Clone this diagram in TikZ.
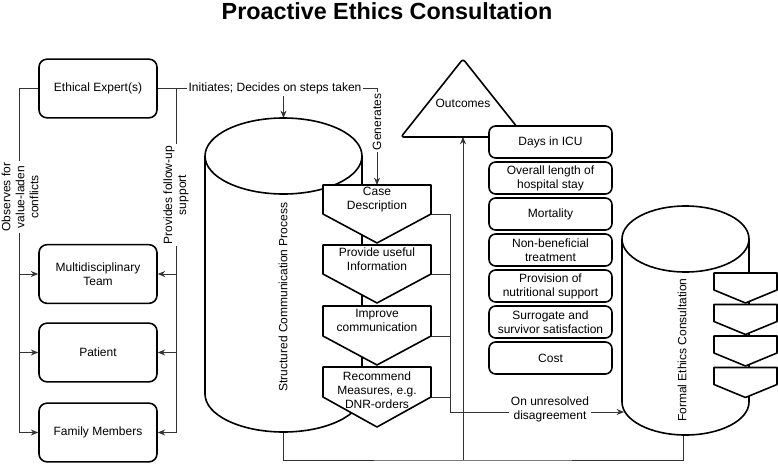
\documentclass[tikz,border=0pt]{standalone}
\usepackage{fontspec}
\setmainfont{Liberation Sans}
\usetikzlibrary{arrows.meta}
\newcommand\chevpath[5]{\draw[shp] (#1,-#3) -- (#2,-#3) -- (#2,-#4) -- ({(#1+#2)/2},-#5) -- (#1,-#4) -- cycle;}
\begin{document}
\begin{tikzpicture}[x=0.75pt,y=0.75pt,
  every node/.style={font=\fontsize{9}{10.5}\selectfont, align=center, inner sep=0pt},
  rbox/.style={draw, line width=1.2pt, rounded corners=6pt, fill=white, minimum width=88.5pt, minimum height=44pt},
  obox/.style={draw, line width=1.2pt, rounded corners=5pt, fill=white, minimum width=92.25pt, minimum height=24pt},
  shp/.style={draw, line width=1.2pt, fill=white, line join=round},
  conn/.style={draw=black!80, line width=0.7pt},
  arr/.style={conn, -{Stealth[length=5.5pt,width=4.5pt]}},
  lbl/.style={fill=white, inner sep=1.5pt}]
\useasboundingbox (0,0) rectangle (778,-464);

% title
\node[font=\fontsize{17.5}{20}\selectfont\bfseries] (title) at (387,-11) {Proactive Ethics Consultation};

% coordinates
\coordinate (br) at (283.5,-88.5);
\coordinate (scptop) at (283.5,-118);
\coordinate (scpbot) at (283.5,-432);
\coordinate (cdtop) at (377,-185);
\coordinate (cde) at (431,-214);
\coordinate (puie) at (431,-274);
\coordinate (ice) at (431,-336);
\coordinate (rme) at (431,-397);
\coordinate (j) at (450,-412);
\coordinate (fecw) at (624,-412);
\coordinate (fecbot) at (683,-435);
\coordinate (jb) at (463,-460);
\coordinate (tribase) at (463,-137);

% left boxes
\node[rbox] (ee) at (98,-88.5) {Ethical Expert(s)};
\node[rbox] (mt) at (98,-274) {Multidisciplinary\\Team};
\node[rbox] (pa) at (98,-352.5) {Patient};
\node[rbox] (fm) at (98,-432.5) {Family Members};

% left connectors
\draw[arr] (ee.west) -- ++(-19,0) |- (mt.west);
\draw[arr] (ee.west) -- ++(-19,0) |- (pa.west);
\draw[arr] (ee.west) -- ++(-19,0) |- (fm.west);
\draw[arr] (ee.east) -- ++(19,0) |- (mt.east);
\draw[arr] (ee.east) -- ++(19,0) |- (pa.east);
\draw[arr] (ee.east) -- ++(19,0) |- (fm.east);
\draw[arr] (ee.east) -| (cdtop);
\draw[arr] (br) -- (scptop);

% bottom connectors
\draw[conn] (scpbot) |- (jb) -| (fecbot);
\draw[arr] (jb) -- (tribase);
\draw[conn] (cde) -| (j);
\draw[conn] (puie) -| (j);
\draw[conn] (ice) -| (j);
\draw[conn] (rme) -| (j);
\draw[arr] (j) -- (fecw);

% structured communication process cylinder
\draw[shp] (205,-156) -- (205,-394) arc[start angle=180,end angle=360,x radius=78.5,y radius=38] -- (362,-156) arc[start angle=0,end angle=180,x radius=78.5,y radius=38] -- cycle;
\draw[line width=1.2pt] (205,-156) arc[start angle=180,end angle=360,x radius=78.5,y radius=38];
\node[rotate=90] (scp) at (283,-297) {Structured Communication Process};

% chevrons
\chevpath{323}{431}{185}{214}{243}
\chevpath{323}{431}{245}{274}{303}
\chevpath{323}{431}{306}{336}{365}
\chevpath{323}{431}{367}{397}{427}
\node (cd) at (377,-200) {Case\\Description};
\node (pui) at (377,-259.5) {Provide useful\\Information};
\node (ic) at (377,-320.5) {Improve\\communication};
\node (rm) at (377,-390) {Recommend\\Measures, e.g.\\DNR-orders};

% outcomes triangle
\draw[shp, rounded corners=2pt] (463,-59) -- (525,-137) -- (401,-137) -- cycle;
\node (out) at (463,-103) {Outcomes};

% outcome boxes
\node[obox] (o1) at (550.5,-142) {Days in ICU};
\node[obox] (o2) at (550.5,-178) {Overall length of\\hospital stay};
\node[obox] (o3) at (550.5,-214) {Mortality};
\node[obox] (o4) at (550.5,-250) {Non-beneficial\\treatment};
\node[obox] (o5) at (550.5,-286) {Provision of\\nutritional support};
\node[obox] (o6) at (550.5,-322) {Surrogate and\\survivor satisfaction};
\node[obox] (o7) at (550.5,-358) {Cost};

% formal ethics consultation cylinder
\draw[shp] (622,-239) -- (622,-402) arc[start angle=180,end angle=360,x radius=63.5,y radius=33] -- (749,-239) arc[start angle=0,end angle=180,x radius=63.5,y radius=33] -- cycle;
\draw[line width=1.2pt] (622,-239) arc[start angle=180,end angle=360,x radius=63.5,y radius=33];
\node[rotate=90] (fec) at (682,-350) {Formal Ethics Consultation};
\chevpath{714}{777}{273}{290}{303}
\chevpath{714}{777}{304.5}{321.5}{334.5}
\chevpath{714}{777}{336}{353}{366}
\chevpath{714}{777}{367.5}{384.5}{397.5}

% labels
\node[lbl] (l1) at (275,-88.5) {Initiates; Decides on steps taken};
\node[lbl, rotate=90] (l2) at (377,-122) {Generates};
\node[lbl, rotate=90] (l3) at (20,-197) {Observes for\\value-laden\\conflicts};
\node[lbl, rotate=90] (l4) at (176,-195) {Provides follow-up\\support};
\node[lbl] (l5) at (550,-409) {On unresolved\\disagreement};
\end{tikzpicture}
\end{document}
